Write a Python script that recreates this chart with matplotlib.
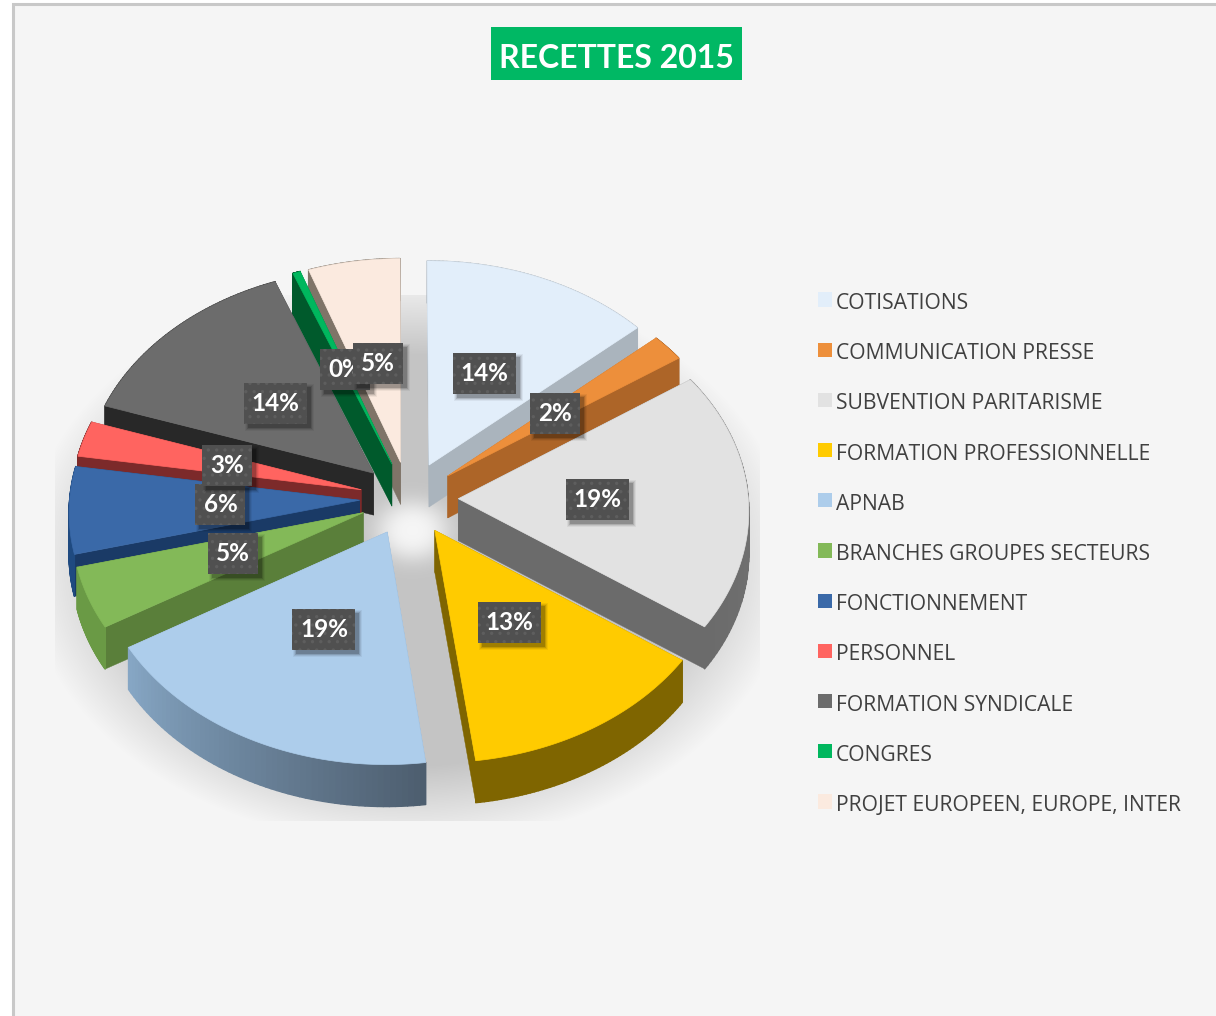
import numpy as np
import matplotlib
matplotlib.use('Agg')
import matplotlib.pyplot as plt
from matplotlib.patches import Rectangle, Polygon
from matplotlib.collections import PolyCollection
from matplotlib.colors import to_rgb

rc = plt.rcParams
rc['font.family'] = ['Open Sans', 'DejaVu Sans']
rc['hatch.linewidth'] = 1.2

# data (percent of the total)
categories = ['COTISATIONS', 'COMMUNICATION PRESSE', 'SUBVENTION PARITARISME',
              'FORMATION PROFESSIONNELLE', 'APNAB', 'BRANCHES GROUPES SECTEURS',
              'FONCTIONNEMENT', 'PERSONNEL', 'FORMATION SYNDICALE', 'CONGRES',
              'PROJET EUROPEEN, EUROPE, INTER']
values = [13.55, 2.0, 19.2, 13.25, 18.55, 4.55, 6.45, 2.65, 13.95, 0.45, 5.4]

# slice colours: top, radial wall, outer wall at both ends
top_colors = ['#e2eefa', '#ed8f3b', '#e2e2e2', '#ffcb00', '#adcdeb', '#83b958',
              '#3a69a8', '#ff6460', '#6c6c6c', '#00b75e', '#fbeadf']
side_colors = ['#aab4bd', '#ad6528', '#6b6b6b', '#7f6500', '#8aa4bc', '#5a7f3a',
               '#1a3a66', '#7c2a2a', '#282828', '#005a2c', '#7f7468']
outer_start = ['#aab4bd', '#ad6528', '#777777', '#7f6500', '#4d5e6f', '#6a9a45',
               '#1f4a80', '#7c2a2a', '#282828', '#005a2c', '#7f7468']
outer_end = ['#aab4bd', '#ad6528', '#6b6b6b', '#7f6500', '#86a6c4', '#6a9a45',
             '#1f4a80', '#7c2a2a', '#282828', '#005a2c', '#7f7468']

# pie layout in pixels
CX, CY = 409, 498.5
RX, RY = 290, 217.5
PERSP = 0.05
EXPLODE = 0.17
DEPTH = 42
START = np.radians(-0.2)


def project(x, y):
    w = 1 + PERSP * np.asarray(y)
    return CX + RX * np.asarray(x) / w, CY - RY * np.asarray(y) / w


fig = plt.figure(figsize=(12.16, 10.16), dpi=100, facecolor='white')
ax = fig.add_axes([0, 0, 1, 1])
ax.set_xlim(0, 1216)
ax.set_ylim(1016, 0)
ax.axis('off')

# chart area and its border
ax.add_patch(Rectangle((13, 4), 1210, 1020, fc='#f5f5f5', ec='#c8c8c8', lw=2.2, zorder=0))

# soft shadow under the pie
px, py = np.meshgrid(np.arange(55, 760), np.arange(295, 821))
d = np.sqrt(((px - 408) / 385.0) ** 2 + ((py - 560) / 285.0) ** 2)
shade = np.clip((1.0 - d) / 0.28, 0, 1)
hole = np.exp(-(((px - 412) / 36.0) ** 2 + ((py - 530) / 30.0) ** 2) ** 1.5)
alpha = shade * (1 - hole)
rgba = np.zeros(px.shape + (4,))
rgba[..., :3] = 0.77
rgba[..., 3] = alpha
ax.imshow(rgba, extent=(55, 760, 821, 295), zorder=1, aspect='auto', interpolation='bilinear')
ax.set_xlim(0, 1216)
ax.set_ylim(1016, 0)

total = sum(values)
edges = np.cumsum([0] + values) / total * 2 * np.pi + START
mids = (edges[:-1] + edges[1:]) / 2

# far slices first
order = np.argsort(-np.cos(mids))
z = 2
for i in order:
    ex, ey = EXPLODE * np.sin(mids[i]), EXPLODE * np.cos(mids[i])
    th = np.linspace(edges[i], edges[i + 1], 60)
    ax_x, ax_y = project(ex + np.sin(th), ey + np.cos(th))
    ap_x, ap_y = project(ex, ey)

    # radial walls
    for k in (0, -1):
        wall = [(ap_x, ap_y), (ax_x[k], ax_y[k]), (ax_x[k], ax_y[k] + DEPTH), (ap_x, ap_y + DEPTH)]
        ax.add_patch(Polygon(wall, fc=side_colors[i], ec=side_colors[i], lw=0.3, zorder=z))
    # outer wall, split up for the colour gradient
    c0, c1 = np.array(to_rgb(outer_start[i])), np.array(to_rgb(outer_end[i]))
    quads, cols = [], []
    for j in range(len(th) - 1):
        quads.append([(ax_x[j], ax_y[j]), (ax_x[j + 1], ax_y[j + 1]),
                      (ax_x[j + 1], ax_y[j + 1] + DEPTH), (ax_x[j], ax_y[j] + DEPTH)])
        cols.append(c0 + (c1 - c0) * j / (len(th) - 2))
    ax.add_collection(PolyCollection(quads, facecolors=cols, edgecolors=cols, linewidths=1.0, zorder=z))
    # top face
    top = np.vstack([[ap_x, ap_y], np.column_stack([ax_x, ax_y])])
    ax.add_patch(Polygon(top, fc=top_colors[i], ec=top_colors[i], lw=0.5, zorder=z + 0.5))
    z += 1

# percent labels, in slice order
for i in range(len(values)):
    ex, ey = EXPLODE * np.sin(mids[i]), EXPLODE * np.cos(mids[i])
    lx, ly = project(ex + 0.48 * np.sin(mids[i]), ey + 0.48 * np.cos(mids[i]))
    text = f'{values[i] / total * 100:.0f}%'
    w = 63 if len(text) == 3 else 50
    h = 41
    zl = 30 + i
    for grow, a in ((6, 0.05), (4, 0.08), (2, 0.12), (0, 0.18)):
        ax.add_patch(Rectangle((lx - w / 2 + 4 - grow / 2, ly - h / 2 + 4 - grow / 2), w + grow, h + grow,
                               fc='black', ec='none', alpha=a, zorder=zl))
    ax.add_patch(Rectangle((lx - w / 2, ly - h / 2), w, h, fc='#505050', ec='#5e5e5e', hatch='..', lw=0, zorder=zl))
    ax.text(lx, ly, text, color='white', fontsize=17.5, fontweight='bold', family=['Lato', 'DejaVu Sans'],
            ha='center', va='center', zorder=zl + 0.5)

# title
ax.add_patch(Rectangle((491, 27), 251, 53, fc='#00b864', ec='none', zorder=39))
ax.text(616, 58, 'RECETTES 2015', color='white', fontsize=23, fontweight='bold', family=['Lato', 'DejaVu Sans'],
        ha='center', va='center', zorder=40)

# legend
handles = [Rectangle((0, 0), 1, 1, fc=c, ec='none') for c in top_colors]
fs = 15.2
fpx = fs / 0.72
leg = ax.legend(handles, categories, loc='upper left', bbox_to_anchor=(818, 293), bbox_transform=ax.transData,
                frameon=False, fontsize=fs, labelcolor='#404040', borderpad=0, borderaxespad=0,
                handlelength=14 / fpx, handleheight=14 / fpx, handletextpad=4 / fpx,
                labelspacing=(50.3 - fpx * 1.0) / fpx)
leg.set_zorder(40)
for h in leg.legend_handles:
    h.set_y(h.get_y() + 1.5)

fig.savefig('out.png', dpi=100)
